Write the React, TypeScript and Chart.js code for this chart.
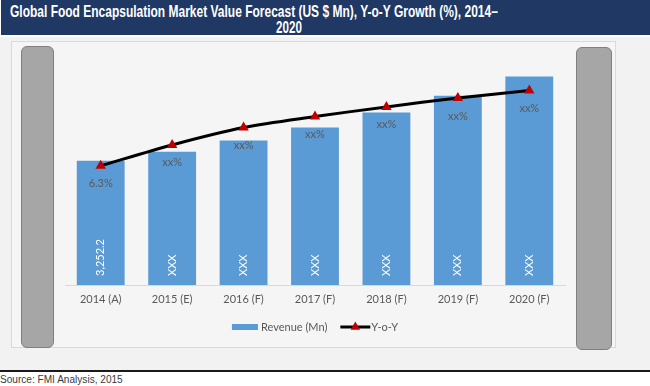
import React, { useEffect, useLayoutEffect, useRef, useState } from "react";
import { Chart, registerables } from "chart.js";

Chart.register(...registerables);

// ---- Data ----
const categories = ["2014 (A)", "2015 (E)", "2016 (F)", "2017 (F)", "2018 (F)", "2019 (F)", "2020 (F)"];
const revenue = [3252.2, 3488, 3785, 4126, 4519, 4957, 5464];
const revenueLabels = ["3,252.2", "XXX", "XXX", "XXX", "XXX", "XXX", "XXX"];
const yoyGrowth = [6.3, 7.4, 8.32, 8.9, 9.41, 9.88, 10.28];
const yoyLabels = ["6.3%", "xx%", "xx%", "xx%", "xx%", "xx%", "xx%"];
const legendLabels = ["Revenue (Mn)", "Y-o-Y"];

const TITLE_LINE_1 = "Global Food Encapsulation Market Value Forecast (US $ Mn), Y-o-Y Growth (%), 2014\u2013";
const TITLE_LINE_2 = "2020";
const SOURCE = "Source: FMI Analysis, 2015";

const BAR_BLUE = "#5b9bd5";
const MARKER_RED = "#c00000";
const TEXT_GREY = "#595959";
const FONT = "Lato, 'Open Sans', sans-serif";
const TITLE_FONT = "'Liberation Sans Narrow', 'Liberation Sans', Arial, sans-serif";

function FitText(props: {
  text: string;
  width: number;
  left?: number;
  center?: number;
  top: number;
  style: React.CSSProperties;
}) {
  const ref = useRef<HTMLSpanElement>(null);
  const [scale, setScale] = useState(1);
  const [natural, setNatural] = useState(0);
  useLayoutEffect(() => {
    if (ref.current) {
      const w = ref.current.offsetWidth;
      if (w) {
        setScale(props.width / w);
        setNatural(w);
      }
    }
  }, [props.text, props.width]);
  let left = props.left ?? 0;
  if (props.center !== undefined) left = props.center - natural / 2;
  return (
    <span
      ref={ref}
      style={{
        position: "absolute",
        left,
        top: props.top,
        whiteSpace: "nowrap",
        display: "inline-block",
        transform: `scaleX(${scale})`,
        transformOrigin: props.center !== undefined ? "center center" : "left center",
        ...props.style,
      }}
    >
      {props.text}
    </span>
  );
}

const valueLabelPlugin = {
  id: "valueLabels",
  afterDatasetsDraw(chart: any) {
    const ctx = chart.ctx as CanvasRenderingContext2D;
    ctx.save();
    ctx.font = `11px ${FONT}`;
    const barMeta = chart.getDatasetMeta(0);
    ctx.fillStyle = "#ffffff";
    barMeta.data.forEach((el: any, i: number) => {
      ctx.save();
      ctx.translate(el.x, el.base - 9);
      ctx.rotate(-Math.PI / 2);
      ctx.textAlign = "left";
      ctx.textBaseline = "middle";
      ctx.fillText(revenueLabels[i], 0, 0);
      ctx.restore();
    });
    const lineMeta = chart.getDatasetMeta(1);
    ctx.fillStyle = TEXT_GREY;
    ctx.textAlign = "center";
    ctx.textBaseline = "middle";
    lineMeta.data.forEach((el: any, i: number) => {
      ctx.fillText(yoyLabels[i], el.x, el.y + 18);
    });
    ctx.restore();
  },
};

const legendPlugin = {
  id: "customLegend",
  afterDraw(chart: any) {
    const ctx = chart.ctx as CanvasRenderingContext2D;
    const area = chart.chartArea;
    ctx.save();
    ctx.font = `11px ${FONT}`;
    const w1 = ctx.measureText(legendLabels[0]).width;
    const w2 = ctx.measureText(legendLabels[1]).width;
    const total = 26 + 3 + w1 + 13 + 30 + 1 + w2;
    let x = (area.left + area.right) / 2 - total / 2;
    const y = area.bottom + 42;
    ctx.fillStyle = BAR_BLUE;
    ctx.fillRect(x, y - 3, 26, 6);
    x += 29;
    ctx.fillStyle = TEXT_GREY;
    ctx.textAlign = "left";
    ctx.textBaseline = "middle";
    ctx.fillText(legendLabels[0], x, y);
    x += w1 + 13;
    ctx.strokeStyle = "#000";
    ctx.lineWidth = 3;
    ctx.beginPath();
    ctx.moveTo(x, y);
    ctx.lineTo(x + 30, y);
    ctx.stroke();
    const cx = x + 15;
    const r = 5.5;
    ctx.fillStyle = MARKER_RED;
    ctx.beginPath();
    ctx.moveTo(cx, y - r);
    ctx.lineTo(cx + r * Math.sin((2 * Math.PI) / 3), y + r / 2);
    ctx.lineTo(cx - r * Math.sin((2 * Math.PI) / 3), y + r / 2);
    ctx.closePath();
    ctx.fill();
    x += 31;
    ctx.fillStyle = TEXT_GREY;
    ctx.fillText(legendLabels[1], x, y);
    ctx.restore();
  },
};

export default function App() {
  const canvasRef = useRef<HTMLCanvasElement>(null);

  useEffect(() => {
    if (!canvasRef.current) return;
    const chart = new Chart(canvasRef.current, {
      data: {
        labels: categories,
        datasets: [
          {
            type: "bar",
            label: legendLabels[0],
            data: revenue,
            backgroundColor: BAR_BLUE,
            borderWidth: 0,
            yAxisID: "y",
            order: 2,
            barPercentage: 0.67,
            categoryPercentage: 1,
          },
          {
            type: "line",
            label: legendLabels[1],
            data: yoyGrowth,
            yAxisID: "y1",
            order: 1,
            borderColor: "#000000",
            borderWidth: 3,
            tension: 0.3,
            fill: false,
            pointStyle: "triangle",
            pointRadius: 6,
            pointBackgroundColor: MARKER_RED,
            pointBorderColor: MARKER_RED,
            pointBorderWidth: 0,
          },
        ],
      } as any,
      options: {
        animation: false,
        responsive: false,
        maintainAspectRatio: false,
        layout: { padding: { left: 65, right: 85, top: 56, bottom: 71 } },
        plugins: {
          legend: { display: false },
          tooltip: { enabled: false },
        },
        scales: {
          x: {
            grid: { display: false, drawTicks: false },
            border: { display: true, color: "#d9d9d9", width: 1 },
            ticks: {
              padding: 8,
              color: TEXT_GREY,
              font: { family: FONT, size: 11 },
              maxRotation: 0,
            },
            afterFit: (scale: any) => {
              scale.height = 30;
            },
          },
          y: { display: false, min: 0, max: 6000 },
          y1: { display: false, min: 0, max: 12.1, position: "right" },
        },
      } as any,
      plugins: [valueLabelPlugin, legendPlugin],
    });
    return () => chart.destroy();
  }, []);

  const pillar: React.CSSProperties = {
    position: "absolute",
    background: "#a6a6a6",
    border: "1px solid #7f7f7f",
    borderRadius: 6,
    boxSizing: "border-box",
  };

  const titleStyle: React.CSSProperties = {
    color: "#ffffff",
    fontFamily: TITLE_FONT,
    fontWeight: "bold",
    fontSize: 17,
    lineHeight: "17px",
  };

  return (
    <div
      style={{
        position: "fixed",
        left: 0,
        top: 0,
        width: 650,
        height: 386,
        background: "#ffffff",
        overflow: "hidden",
      }}
    >
      <div style={{ position: "absolute", left: 1, top: 0, width: 649, height: 35, background: "#1f3864" }} />
      <FitText text={TITLE_LINE_1} width={488} left={10} top={2.9} style={titleStyle} />
      <FitText text={TITLE_LINE_2} width={26} center={289} top={18.9} style={titleStyle} />

      <div style={{ position: "absolute", left: 0, top: 37, width: 650, height: 333, background: "#f2f2f2" }} />
      <div
        style={{
          position: "absolute",
          left: 11,
          top: 41,
          width: 605,
          height: 307,
          background: "#f5f5f5",
          border: "1px solid #d9d9d9",
          boxSizing: "border-box",
        }}
      />
      <div style={{ ...pillar, left: 21, top: 46, width: 33, height: 302 }} />
      <div style={{ ...pillar, left: 576, top: 47, width: 36, height: 303 }} />
      <div style={{ position: "absolute", left: 0, top: 370, width: 650, height: 2, background: "#1a1a1a" }} />
      <FitText
        text={SOURCE}
        width={123}
        left={0}
        top={374}
        style={{ fontFamily: "'Liberation Sans', Arial, sans-serif", fontSize: 10, lineHeight: "12px", color: "#3a3a3a" }}
      />
      <canvas
        ref={canvasRef}
        width={650}
        height={386}
        style={{ position: "absolute", left: 0, top: 0, width: 650, height: 386 }}
      />
    </div>
  );
}
